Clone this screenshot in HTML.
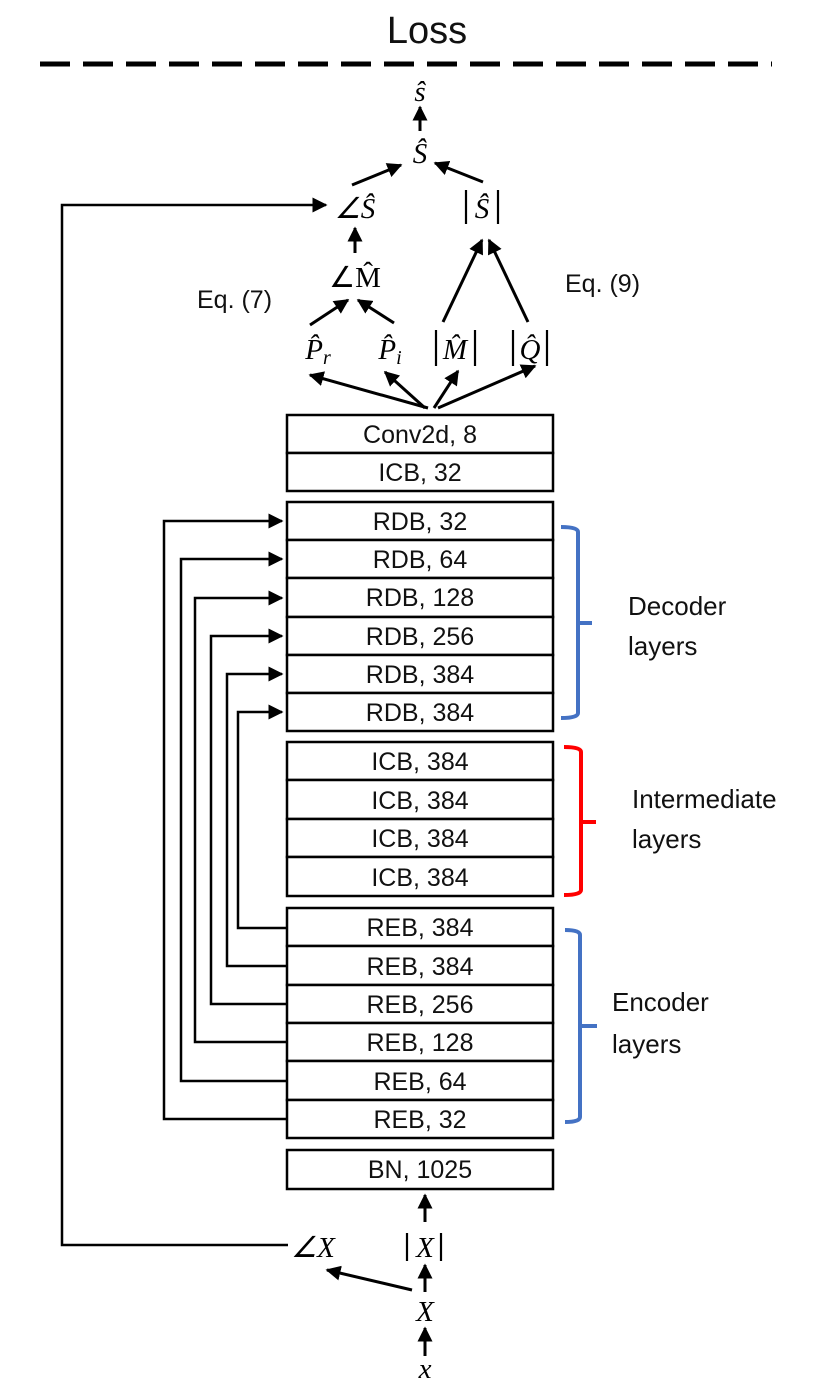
<!DOCTYPE html>
<html><head><meta charset="utf-8"><style>body{margin:0;background:#fff}svg{display:block}</style></head>
<body>
<svg width="831" height="1394" viewBox="0 0 831 1394" xmlns="http://www.w3.org/2000/svg">
<defs>
<marker id="a" viewBox="0 0 10 10" refX="9" refY="5" markerWidth="5" markerHeight="5" orient="auto-start-reverse" markerUnits="strokeWidth"><path d="M0,0 L10,5 L0,10 z" fill="#000"/></marker>
<marker id="b" viewBox="0 0 10 10" refX="9" refY="5" markerWidth="7" markerHeight="6" orient="auto" markerUnits="strokeWidth"><path d="M0,0 L10,5 L0,10 z" fill="#000"/></marker>
</defs>
<g font-family="Liberation Sans, sans-serif" fill="#111">
<text x="427" y="43" font-size="38" text-anchor="middle">Loss</text>
</g>
<line x1="40" y1="64" x2="772" y2="64" stroke="#000" stroke-width="5" stroke-dasharray="30,13"/>

<g fill="none" stroke="#000" stroke-width="3">
<line x1="420" y1="131" x2="420" y2="107" marker-end="url(#a)"/>
<line x1="352" y1="185" x2="401" y2="165" marker-end="url(#a)"/>
<line x1="483" y1="182" x2="435" y2="163" marker-end="url(#a)"/>
<line x1="355" y1="253" x2="355" y2="228" marker-end="url(#a)"/>
<line x1="310" y1="325" x2="348" y2="300" marker-end="url(#a)"/>
<line x1="394" y1="323" x2="358" y2="300" marker-end="url(#a)"/>
<line x1="443" y1="322" x2="482" y2="240" marker-end="url(#a)"/>
<line x1="528" y1="322" x2="489" y2="240" marker-end="url(#a)"/>
<line x1="428" y1="408" x2="310" y2="375" marker-end="url(#a)"/>
<line x1="425" y1="408" x2="385" y2="372" marker-end="url(#a)"/>
<line x1="434" y1="408" x2="458" y2="371" marker-end="url(#a)"/>
<line x1="438" y1="408" x2="535" y2="366" marker-end="url(#a)"/>
<polyline points="288,1245 62,1245 62,205 326,205" stroke-width="2.5" marker-end="url(#b)"/>
<line x1="425" y1="1222" x2="425" y2="1195" marker-end="url(#a)"/>
<line x1="425" y1="1292" x2="425" y2="1265" marker-end="url(#a)"/>
<line x1="412" y1="1290" x2="327" y2="1270" marker-end="url(#a)"/>
<line x1="425" y1="1356" x2="425" y2="1328" marker-end="url(#a)"/>
</g>
<g fill="none" stroke="#000" stroke-width="2.5">
<polyline points="286,1119 164,1119 164,521 282,521" marker-end="url(#b)"/>
<polyline points="286,1081 181,1081 181,559 282,559" marker-end="url(#b)"/>
<polyline points="286,1042 195,1042 195,598 282,598" marker-end="url(#b)"/>
<polyline points="286,1004 211,1004 211,636 282,636" marker-end="url(#b)"/>
<polyline points="286,966 227,966 227,674 282,674" marker-end="url(#b)"/>
<polyline points="286,928 238,928 238,712 282,712" marker-end="url(#b)"/>
</g>
<g fill="#fff" stroke="#000" stroke-width="2.5">
<rect x="287" y="415" width="266" height="38"/><rect x="287" y="453" width="266" height="38"/>
<rect x="287" y="502" width="266" height="38"/><rect x="287" y="540" width="266" height="38"/>
<rect x="287" y="578" width="266" height="39"/><rect x="287" y="617" width="266" height="38"/>
<rect x="287" y="655" width="266" height="38"/><rect x="287" y="693" width="266" height="38"/>
<rect x="287" y="742" width="266" height="38"/><rect x="287" y="780" width="266" height="39"/>
<rect x="287" y="819" width="266" height="38"/><rect x="287" y="857" width="266" height="39"/>
<rect x="287" y="908" width="266" height="38"/><rect x="287" y="946" width="266" height="39"/>
<rect x="287" y="985" width="266" height="38"/><rect x="287" y="1023" width="266" height="38"/>
<rect x="287" y="1061" width="266" height="39"/><rect x="287" y="1100" width="266" height="38"/>
<rect x="287" y="1150" width="266" height="39"/>
</g>
<g font-family="Liberation Sans, sans-serif" font-size="25" fill="#111" text-anchor="middle">
<text x="420" y="443">Conv2d, 8</text><text x="420" y="481">ICB, 32</text>
<text x="420" y="530">RDB, 32</text><text x="420" y="568">RDB, 64</text>
<text x="420" y="606">RDB, 128</text><text x="420" y="645">RDB, 256</text>
<text x="420" y="683">RDB, 384</text><text x="420" y="721">RDB, 384</text>
<text x="420" y="770">ICB, 384</text><text x="420" y="809">ICB, 384</text>
<text x="420" y="847">ICB, 384</text><text x="420" y="886">ICB, 384</text>
<text x="420" y="936">REB, 384</text><text x="420" y="975">REB, 384</text>
<text x="420" y="1013">REB, 256</text><text x="420" y="1051">REB, 128</text>
<text x="420" y="1090">REB, 64</text><text x="420" y="1128">REB, 32</text>
<text x="420" y="1178">BN, 1025</text>
</g>
<g fill="none" stroke-width="4" stroke-linejoin="round">
<path d="M561,527 Q578,527 578,532 L578,623 L592,623 M578,623 L578,713 Q578,718 561,718" stroke="#4472C4"/>
<path d="M564,747 Q581,747 581,752 L581,822 L596,822 M581,822 L581,890 Q581,895 564,895" stroke="#FF0000"/>
<path d="M565,930 Q580,930 580,935 L580,1026 L597,1026 M580,1026 L580,1117 Q580,1122 565,1122" stroke="#4472C4"/>
</g>
<g font-family="Liberation Sans, sans-serif" font-size="26" fill="#111">
<text x="628" y="615">Decoder</text><text x="628" y="655">layers</text>
<text x="632" y="808">Intermediate</text><text x="632" y="848">layers</text>
<text x="612" y="1011">Encoder</text><text x="612" y="1053">layers</text>
<text x="197" y="308" font-size="25">Eq. (7)</text>
<text x="565" y="292" font-size="25">Eq. (9)</text>
</g>
<g font-family="Liberation Serif, serif" font-size="29" fill="#000" text-anchor="middle" font-style="italic">
<text x="420" y="101">ŝ</text>
<text x="420" y="163">Ŝ</text>
<text x="355" y="218">∠Ŝ</text>
<text x="482" y="218">Ŝ</text>
<text x="355" y="287" font-style="normal">∠M̂</text>
<text x="318" y="359">P̂<tspan font-size="20" dy="5">r</tspan></text>
<text x="390" y="359">P̂<tspan font-size="20" dy="5">i</tspan></text>
<text x="455" y="359">M̂</text>
<text x="530" y="359">Q̂</text>
<text x="313" y="1257">∠X</text>
<text x="425" y="1257">X</text>
<text x="425" y="1321">X</text>
<text x="425" y="1378">x</text>
</g>
<!-- absolute bars -->
<g stroke="#000" stroke-width="2.2">
<line x1="466" y1="190" x2="466" y2="224"/><line x1="498" y1="190" x2="498" y2="224"/>
<line x1="436" y1="330" x2="436" y2="366"/><line x1="475" y1="330" x2="475" y2="366"/>
<line x1="513" y1="330" x2="513" y2="366"/><line x1="547" y1="330" x2="547" y2="366"/>
<line x1="407" y1="1233" x2="407" y2="1261"/><line x1="441" y1="1233" x2="441" y2="1261"/>
</g>
</svg>
</body></html>
